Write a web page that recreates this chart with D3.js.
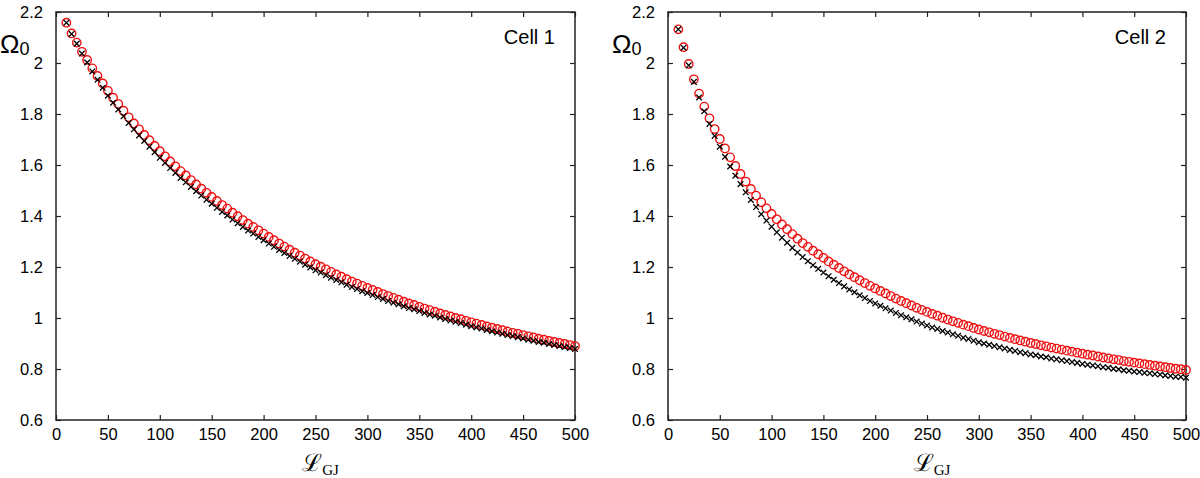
<!DOCTYPE html>
<html>
<head>
<meta charset="utf-8">
<script src="https://cdn.jsdelivr.net/npm/d3@7/dist/d3.min.js"></script>
<style>
  html, body { margin: 0; padding: 0; background: #fff; }
  svg { display: block; }
  text { font-family: "Liberation Sans", Arial, sans-serif; fill: #000; }
</style>
</head>
<body>
<svg id="chart" width="1200" height="478"></svg>
<script>
// ---------- data ----------
const xValues = [10,15,20,25,30,35,40,45,50,55,60,65,70,75,80,85,90,95,100,105,110,115,120,125,130,135,140,145,150,155,160,165,170,175,180,185,190,195,200,205,210,215,220,225,230,235,240,245,250,255,260,265,270,275,280,285,290,295,300,305,310,315,320,325,330,335,340,345,350,355,360,365,370,375,380,385,390,395,400,405,410,415,420,425,430,435,440,445,450,455,460,465,470,475,480,485,490,495,500];

const cell1Circles = [2.158,2.116,2.080,2.044,2.012,1.979,1.949,1.920,1.891,1.864,1.839,1.813,1.787,1.763,1.740,1.718,1.697,1.675,1.654,1.634,1.614,1.595,1.576,1.559,1.541,1.524,1.507,1.491,1.475,1.459,1.443,1.429,1.413,1.399,1.384,1.370,1.357,1.344,1.331,1.318,1.305,1.292,1.280,1.268,1.256,1.245,1.233,1.222,1.211,1.201,1.191,1.181,1.171,1.162,1.152,1.143,1.135,1.126,1.118,1.110,1.102,1.094,1.086,1.079,1.072,1.064,1.057,1.051,1.044,1.037,1.031,1.025,1.018,1.012,1.006,1.000,0.995,0.989,0.983,0.978,0.973,0.967,0.962,0.957,0.952,0.947,0.942,0.938,0.933,0.928,0.924,0.919,0.915,0.910,0.906,0.902,0.898,0.894,0.890];

const cell1Crosses = [2.158,2.114,2.076,2.037,2.002,1.967,1.934,1.903,1.872,1.844,1.818,1.791,1.765,1.740,1.716,1.694,1.672,1.650,1.628,1.608,1.588,1.569,1.549,1.532,1.514,1.497,1.480,1.464,1.448,1.432,1.416,1.402,1.386,1.372,1.357,1.343,1.331,1.318,1.305,1.292,1.279,1.267,1.255,1.243,1.232,1.221,1.209,1.198,1.187,1.178,1.168,1.158,1.149,1.140,1.130,1.122,1.114,1.105,1.098,1.090,1.082,1.075,1.067,1.060,1.054,1.046,1.039,1.034,1.027,1.020,1.014,1.009,1.002,0.996,0.990,0.985,0.980,0.974,0.968,0.963,0.959,0.953,0.948,0.943,0.938,0.933,0.929,0.925,0.920,0.915,0.911,0.906,0.903,0.898,0.894,0.890,0.886,0.882,0.878];

const cell2Circles = [2.132,2.062,1.996,1.936,1.880,1.829,1.783,1.741,1.702,1.665,1.630,1.596,1.565,1.535,1.506,1.480,1.454,1.430,1.408,1.387,1.367,1.348,1.329,1.311,1.294,1.279,1.264,1.250,1.236,1.222,1.209,1.196,1.183,1.171,1.160,1.148,1.137,1.126,1.116,1.106,1.096,1.086,1.076,1.067,1.058,1.049,1.040,1.032,1.024,1.016,1.009,1.001,0.994,0.987,0.981,0.974,0.968,0.961,0.955,0.949,0.944,0.938,0.933,0.927,0.922,0.917,0.912,0.907,0.902,0.898,0.893,0.889,0.884,0.880,0.876,0.872,0.868,0.864,0.860,0.856,0.853,0.849,0.845,0.842,0.838,0.835,0.831,0.828,0.825,0.822,0.819,0.816,0.813,0.810,0.807,0.804,0.801,0.799,0.796];

const cell2Crosses = [2.132,2.060,1.991,1.926,1.865,1.811,1.761,1.714,1.672,1.632,1.594,1.558,1.525,1.493,1.463,1.435,1.407,1.382,1.358,1.336,1.315,1.295,1.275,1.257,1.239,1.223,1.207,1.193,1.178,1.164,1.150,1.137,1.124,1.112,1.101,1.089,1.078,1.067,1.057,1.048,1.038,1.029,1.020,1.011,1.003,0.995,0.986,0.978,0.971,0.963,0.957,0.949,0.943,0.936,0.930,0.923,0.918,0.911,0.905,0.900,0.895,0.890,0.885,0.880,0.875,0.871,0.866,0.862,0.857,0.854,0.849,0.846,0.841,0.838,0.834,0.831,0.827,0.824,0.820,0.817,0.814,0.811,0.807,0.805,0.801,0.799,0.795,0.793,0.790,0.788,0.785,0.783,0.780,0.778,0.775,0.773,0.770,0.769,0.766];

const xTicks = [0,50,100,150,200,250,300,350,400,450,500];
const yTicks = [0.6,0.8,1.0,1.2,1.4,1.6,1.8,2.0,2.2];
const yTickLabels = ["0.6","0.8","1","1.2","1.4","1.6","1.8","2","2.2"];
const panelTitles = ["Cell 1","Cell 2"];

// ---------- drawing ----------
const svg = d3.select("#chart");
const panels = [
  { left: 56,  right: 575,  top: 12, bottom: 420, title: panelTitles[0], circles: cell1Circles, crosses: cell1Crosses },
  { left: 668, right: 1186, top: 12, bottom: 420, title: panelTitles[1], circles: cell2Circles, crosses: cell2Crosses }
];

panels.forEach(p => {
  const x = d3.scaleLinear().domain([0, 500]).range([p.left, p.right]);
  const y = d3.scaleLinear().domain([0.6, 2.2]).range([p.bottom, p.top]);
  const g = svg.append("g");

  const fmtY = v => yTickLabels[yTicks.indexOf(v)];

  const axB = g.append("g").attr("transform", `translate(0,${p.bottom})`)
    .call(d3.axisBottom(x).tickValues(xTicks).tickSizeInner(-5).tickSizeOuter(0).tickPadding(8).tickFormat(d3.format("d")));
  const axT = g.append("g").attr("transform", `translate(0,${p.top})`)
    .call(d3.axisTop(x).tickValues(xTicks).tickSizeInner(-5).tickSizeOuter(0).tickFormat(""));
  const axL = g.append("g").attr("transform", `translate(${p.left},0)`)
    .call(d3.axisLeft(y).tickValues(yTicks).tickSizeInner(-5).tickSizeOuter(0).tickPadding(13).tickFormat(fmtY));
  const axR = g.append("g").attr("transform", `translate(${p.right},0)`)
    .call(d3.axisRight(y).tickValues(yTicks).tickSizeInner(-5).tickSizeOuter(0).tickFormat(""));

  [axB, axT, axL, axR].forEach(a => {
    a.select(".domain").remove();
    a.selectAll(".tick line").attr("stroke", "#222").attr("stroke-width", 1.2);
    a.selectAll(".tick text").attr("font-size", 16.5).attr("font-family", "Liberation Sans, Arial, sans-serif").attr("fill", "#000");
  });

  // frame
  g.append("rect")
    .attr("x", p.left).attr("y", p.top)
    .attr("width", p.right - p.left).attr("height", p.bottom - p.top)
    .attr("fill", "none").attr("stroke", "#222").attr("stroke-width", 1.5);

  // circles (red)
  g.append("g").selectAll("circle")
    .data(xValues.map((xv, i) => [xv, p.circles[i]]))
    .join("circle")
    .attr("cx", d => x(d[0])).attr("cy", d => y(d[1])).attr("r", 4.2)
    .attr("fill", "none").attr("stroke", "#ee1111").attr("stroke-width", 1.4);

  // crosses (black)
  const s = 2.8;
  g.append("g").selectAll("path")
    .data(xValues.map((xv, i) => [xv, p.crosses[i]]))
    .join("path")
    .attr("d", d => {
      const cx = x(d[0]), cy = y(d[1]);
      return `M${cx - s},${cy - s}L${cx + s},${cy + s}M${cx - s},${cy + s}L${cx + s},${cy - s}`;
    })
    .attr("stroke", "#000").attr("stroke-width", 1.3).attr("fill", "none");

  // panel title
  g.append("text")
    .attr("x", p.right - 20).attr("y", 44)
    .attr("text-anchor", "end")
    .attr("font-size", 20)
    .text(p.title);

  // y label  Ω0
  const yl = g.append("text")
    .attr("x", p.left - 56).attr("y", 53)
    .attr("font-family", "Liberation Serif, Times New Roman, serif")
    .attr("font-size", 26);
  yl.append("tspan").text("Ω");
  yl.append("tspan").attr("font-size", 18).attr("dy", 2).text("0");

  // x label  ℒGJ
  const xl = g.append("text")
    .attr("x", (p.left + p.right) / 2 + 5).attr("y", 471)
    .attr("text-anchor", "middle")
    .attr("font-family", "DejaVu Serif, Liberation Serif, serif")
    .attr("font-size", 24);
  xl.append("tspan").text("ℒ");
  xl.append("tspan").attr("font-size", 15).attr("dy", 4)
    .attr("font-family", "Liberation Serif, Times New Roman, serif").text("GJ");
});
</script>
</body>
</html>
